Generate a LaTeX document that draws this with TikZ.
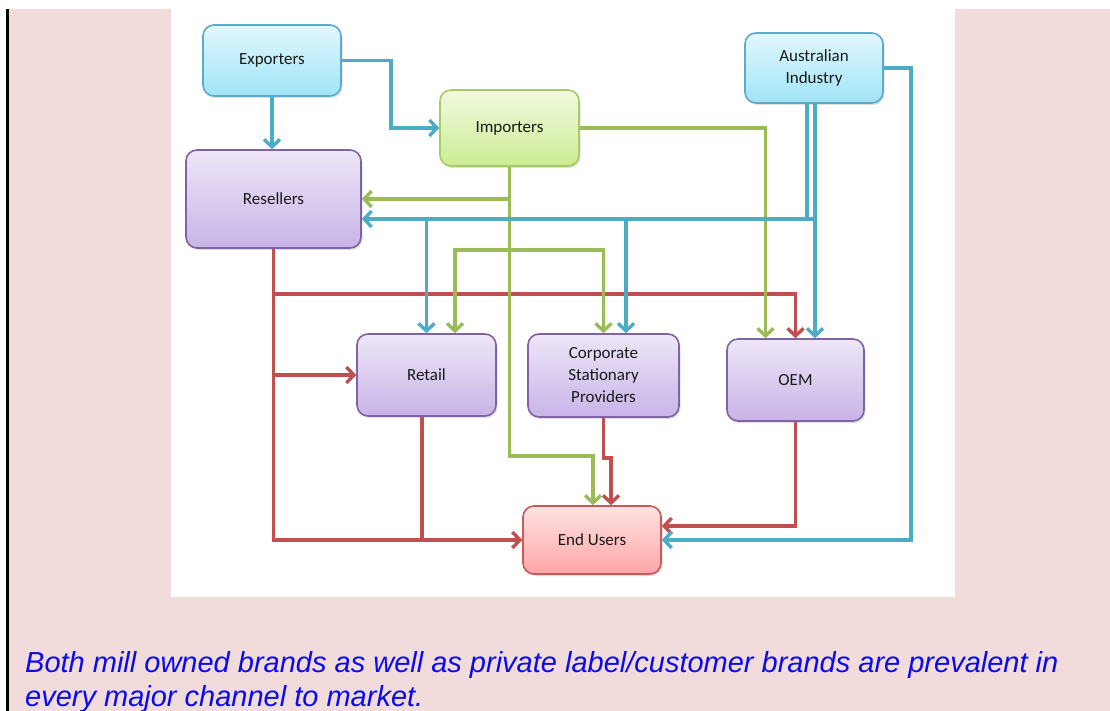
\documentclass[tikz,border=0pt]{standalone}
\usepackage{fontspec}
\setmainfont{Carlito}
\newfontfamily\capfont{Liberation Sans}
\usetikzlibrary{arrows.meta,shadows}
\definecolor{pinkbg}{RGB}{242,220,219}
\definecolor{blline}{RGB}{75,172,198}
\definecolor{grline}{RGB}{155,187,89}
\definecolor{rdline}{RGB}{192,80,77}
\definecolor{capblue}{RGB}{10,10,240}
\definecolor{txt}{RGB}{25,25,25}
\tikzset{
  box/.style={rounded corners=11pt, line width=1.6pt, font=\fontsize{17}{22}\selectfont,
    text=txt, align=center, inner sep=0pt,
    drop shadow={opacity=0.25, shadow xshift=1.5pt, shadow yshift=-2pt}},
  bluebox/.style={box, draw={rgb,255:red,95;green,170;blue,200}, top color={rgb,255:red,226;green,248;blue,253}, bottom color={rgb,255:red,160;green,228;blue,247}},
  greenbox/.style={box, draw={rgb,255:red,168;green,204;blue,100}, top color={rgb,255:red,242;green,250;blue,224}, bottom color={rgb,255:red,204;green,235;blue,146}},
  purplebox/.style={box, draw={rgb,255:red,128;green,100;blue,162}, top color={rgb,255:red,238;green,230;blue,247}, bottom color={rgb,255:red,200;green,180;blue,232}},
  redbox/.style={box, draw={rgb,255:red,200;green,90;blue,90}, top color={rgb,255:red,255;green,226;blue,226}, bottom color={rgb,255:red,255;green,166;blue,166}},
  conn/.style={line width=3.4pt},
  tip/.style={-{Straight Barb[length=7.5pt,width=16pt]}},
  bl/.style={conn, draw=blline},
  gr/.style={conn, draw=grline},
  rd/.style={conn, draw=rdline},
  captext/.style={font=\capfont\itshape\fontsize{29}{34}\selectfont, text=capblue, anchor=base west, inner sep=0pt}
}
\begin{document}
\begin{tikzpicture}[x=1pt,y=-1pt]
\useasboundingbox (0,0) rectangle (1110,711);
% background
\fill[white] (0,0) rectangle (1110,711);
\fill[pinkbg] (8,9) rectangle (1110,711);
\fill[black] (6,9) rectangle (8.5,711);
\fill[white] (171,0) rectangle (955,597);

% nodes
\node[bluebox, minimum width=138pt, minimum height=71pt] (exp) at (272,60.5) {Exporters};
\node[greenbox, minimum width=139pt, minimum height=76pt] (imp) at (509.5,128) {Importers};
\node[purplebox, minimum width=175pt, minimum height=98pt] (res) at (273.5,199) {Resellers};
\node[bluebox, minimum width=138pt, minimum height=70pt] (aus) at (814,68) {Australian\\Industry};
\node[purplebox, minimum width=139pt, minimum height=82pt] (ret) at (426.5,375) {Retail};
\node[purplebox, minimum width=151pt, minimum height=83pt] (cor) at (603.5,375.5) {Corporate\\Stationary\\Providers};
\node[purplebox, minimum width=137pt, minimum height=82pt] (oem) at (795.5,380) {OEM};
\node[redbox, minimum width=138pt, minimum height=68pt] (end) at (592,540) {End Users};

% level coordinates
\coordinate (byl) at (0,219);
\coordinate (gl) at (0,250);
\coordinate (rl) at (0,294);
\coordinate (gy) at (0,456);
\coordinate (ry) at (0,458);
\coordinate (ar) at (911,0);

% red connectors
\draw[rd, tip] (res.south) |- (end.west);
\draw[rd, tip] (res.south |- rl) -| (oem.north);
\draw[rd, tip] (res.south |- ret.west) -- (ret.west);
\draw[rd] ([xshift=-4.5pt]ret.south) -- ([xshift=-4.5pt]ret.south |- end.west);
\draw[rd, tip] (cor.south) |- ([xshift=19pt]end.north |- ry) -- ([xshift=19pt]end.north);
\draw[rd, tip] (oem.south) |- ([yshift=14pt]end.east);

% green connectors
\draw[gr, tip] (imp.east) -| ([xshift=-30pt]oem.north);
\draw[gr, tip] (imp.south) |- (res.east);
\draw[gr, tip] (imp.south |- gl) -| ([xshift=28.5pt]ret.north);
\draw[gr, tip] (imp.south |- gl) -| (cor.north);
\draw[gr, tip] (imp.south) |- ([xshift=1pt]end.north |- gy) -- ([xshift=1pt]end.north);

% blue connectors
\draw[bl, tip] (exp.south) -- (exp.south |- res.north);
\draw[bl, tip] (exp.east) -- ++(49,0) |- (imp.west);
\draw[bl, tip] ([xshift=-7pt]aus.south) |- ([yshift=-20pt]res.east);
\draw[bl, tip] (ret.north |- byl) -- (ret.north);
\draw[bl, tip] ([xshift=1pt]aus.south) |- ([xshift=22.5pt]cor.north |- byl) -- ([xshift=22.5pt]cor.north);
\draw[bl, tip] ([xshift=1pt]aus.south) -- ([xshift=1pt]aus.south |- oem.north);
\draw[bl, tip] (aus.east) -| (ar |- end.east) -- (end.east);

% caption
\node[captext] (cap1) at (25,672) {Both mill owned brands as well as private label/customer brands are prevalent in};
\node[captext] (cap2) at (25,706) {every major channel to market.};
\end{tikzpicture}
\end{document}
